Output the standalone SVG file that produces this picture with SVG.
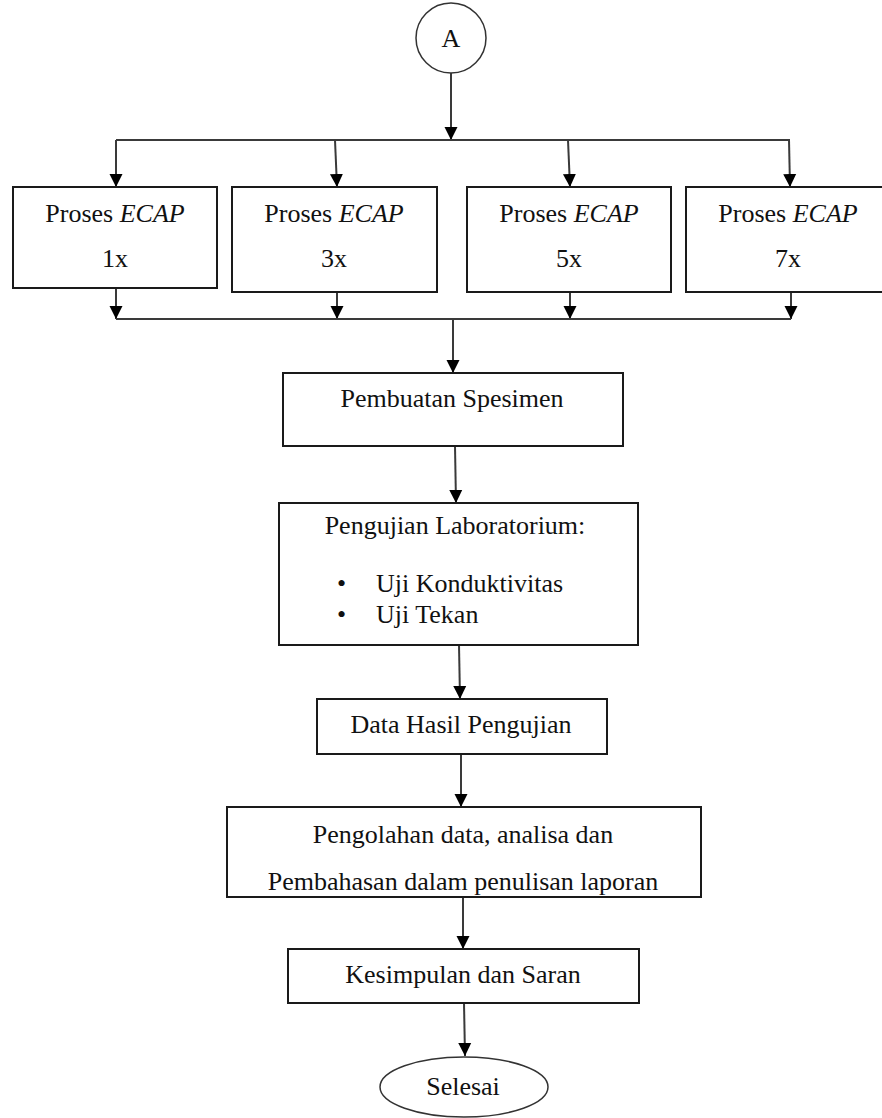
<svg xmlns="http://www.w3.org/2000/svg" width="882" height="1118" viewBox="0 0 882 1118">
<style>
.box{fill:#fff;stroke:#1a1a1a;stroke-width:2}
.t{font-family:"Liberation Serif","Times New Roman",serif;font-size:26px;fill:#111;text-anchor:middle}
.ts{font-family:"Liberation Serif","Times New Roman",serif;font-size:26px;fill:#111}
.c{stroke:#3a3a3a;stroke-width:2;fill:none}
</style>
<defs>
<marker id="ah" markerUnits="userSpaceOnUse" markerWidth="14" markerHeight="14" refX="7" refY="13" orient="auto-start-reverse" viewBox="0 0 14 14">
<path d="M0.5,0 L13.5,0 L7,13 Z" fill="#000" transform="rotate(0)"/>
</marker>
<marker id="ad" markerUnits="userSpaceOnUse" markerWidth="14" markerHeight="14" refX="13" refY="7" orient="auto" viewBox="0 0 14 14">
<path d="M0,0.5 L13,7 L0,13.5 Z" fill="#000"/>
</marker>
<clipPath id="clipP"><rect x="228" y="808" width="472" height="88"/></clipPath>
</defs>
<g id="connectors">
<line class="c" x1="451" y1="73" x2="451" y2="140" marker-end="url(#ad)"/>
<line class="c" x1="116" y1="140" x2="790" y2="140"/>
<line class="c" x1="116" y1="140" x2="116" y2="187" marker-end="url(#ad)"/>
<line class="c" x1="335" y1="140" x2="337" y2="187" marker-end="url(#ad)"/>
<line class="c" x1="568" y1="140" x2="570" y2="187" marker-end="url(#ad)"/>
<line class="c" x1="789" y1="140" x2="790" y2="187" marker-end="url(#ad)"/>
<line class="c" x1="116" y1="288" x2="116" y2="319" marker-end="url(#ad)"/>
<line class="c" x1="337" y1="292" x2="337" y2="319" marker-end="url(#ad)"/>
<line class="c" x1="570" y1="292" x2="570" y2="319" marker-end="url(#ad)"/>
<line class="c" x1="791" y1="292" x2="791" y2="319" marker-end="url(#ad)"/>
<line class="c" x1="116" y1="319" x2="791" y2="319"/>
<line class="c" x1="453" y1="319" x2="453" y2="373" marker-end="url(#ad)"/>
<line class="c" x1="455" y1="446" x2="456" y2="503" marker-end="url(#ad)"/>
<line class="c" x1="459" y1="645" x2="460" y2="699" marker-end="url(#ad)"/>
<line class="c" x1="461" y1="754" x2="461" y2="807" marker-end="url(#ad)"/>
<line class="c" x1="463" y1="897" x2="463" y2="949" marker-end="url(#ad)"/>
<line class="c" x1="464" y1="1003" x2="465" y2="1056" marker-end="url(#ad)"/>
</g>
<g id="start">
<circle cx="451" cy="38" r="35" fill="#fff" stroke="#333" stroke-width="1.5"/>
<text class="t" x="451" y="47" font-size="24">A</text>
</g>
<g id="ecap1">
<rect class="box" x="13" y="187" width="204" height="101"/>
<text class="t" x="115" y="222">Proses <tspan font-style="italic">ECAP</tspan></text>
<text class="t" x="115" y="267">1x</text>
</g>
<g id="ecap3">
<rect class="box" x="232" y="187" width="205" height="105"/>
<text class="t" x="334" y="222">Proses <tspan font-style="italic">ECAP</tspan></text>
<text class="t" x="334" y="267">3x</text>
</g>
<g id="ecap5">
<rect class="box" x="467" y="187" width="204" height="105"/>
<text class="t" x="569" y="222">Proses <tspan font-style="italic">ECAP</tspan></text>
<text class="t" x="569" y="267">5x</text>
</g>
<g id="ecap7">
<rect class="box" x="686" y="187" width="210" height="105"/>
<text class="t" x="788" y="222">Proses <tspan font-style="italic">ECAP</tspan></text>
<text class="t" x="788" y="267">7x</text>
</g>
<g id="pembuatan">
<rect class="box" x="283" y="373" width="340" height="73"/>
<text class="t" x="452" y="407">Pembuatan Spesimen</text>
</g>
<g id="pengujian">
<rect class="box" x="279" y="503" width="359" height="142"/>
<text class="t" x="455" y="534">Pengujian Laboratorium:</text>
<text class="ts" x="337" y="592">•</text>
<text class="ts" x="376" y="592">Uji Konduktivitas</text>
<text class="ts" x="337" y="623">•</text>
<text class="ts" x="376" y="623">Uji Tekan</text>
</g>
<g id="data">
<rect class="box" x="317" y="699" width="290" height="55"/>
<text class="t" x="461" y="733">Data Hasil Pengujian</text>
</g>
<g id="pengolahan">
<rect class="box" x="227" y="807" width="474" height="90"/>
<text class="t" x="463" y="843">Pengolahan data, analisa dan</text>
<text class="t" x="463" y="890" clip-path="url(#clipP)">Pembahasan dalam penulisan laporan</text>
</g>
<g id="kesimpulan">
<rect class="box" x="288" y="949" width="351" height="54"/>
<text class="t" x="463" y="983">Kesimpulan dan Saran</text>
</g>
<g id="selesai">
<ellipse cx="464" cy="1087" rx="84" ry="30" fill="#fff" stroke="#333" stroke-width="1.5"/>
<text class="t" x="463" y="1095">Selesai</text>
</g>
</svg>
